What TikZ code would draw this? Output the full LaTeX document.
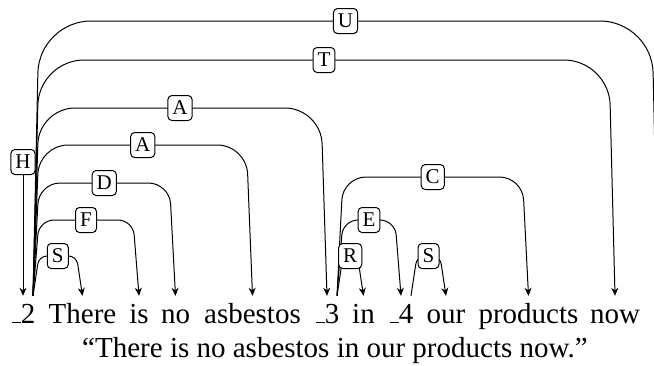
\documentclass[tikz,border=0pt]{standalone}
\usepackage{fontspec}
\setmainfont{Liberation Serif}
\usetikzlibrary{calc,arrows.meta}
\newcommand\usc{\kern.06em\rule{.3em}{1pt}}
\newcommand\depedge[5]{\draw[dep, rounded corners=#4] (#1) -- ($(#1 |- 0,#3)+(6,0)$) -- node[lab]{#5} ($(#2.north |- 0,#3)+(-6,0)$) -- (#2.north);}
\begin{document}
\begin{tikzpicture}[x=1pt,y=-1pt,
  word/.style={anchor=base, inner sep=0pt, text height=27pt, text depth=7pt, font=\fontsize{29}{34}\selectfont},
  lab/.style={draw, fill=white, rounded corners=4pt, line width=1pt, inner xsep=4.5pt, inner ysep=0pt, minimum height=25pt, minimum width=21pt, text height=13.5pt, text depth=0pt, font=\fontsize{21}{25}\selectfont},
  dep/.style={line width=1pt, -{Stealth[length=8pt,width=7pt,inset=2.5pt]}},
]
\useasboundingbox (0,0) rectangle (654,365);
% words
\node[word] (w2)    at (23,323)    {\usc2};
\node[word] (there) at (82.5,323)  {There};
\node[word] (is)    at (139,323)   {is};
\node[word] (no)    at (175.5,323) {no};
\node[word] (asb)   at (252.5,323) {asbestos};
\node[word] (w3)    at (327,323)   {\usc3};
\node[word] (in)    at (363.5,323) {in};
\node[word] (w4)    at (401,323)   {\usc4};
\node[word] (our)   at (446,323)   {our};
\node[word] (prod)  at (528.5,323) {products};
\node[word] (now)   at (615,323)   {now};
\node[word] (eos)   at (658,323)   {};
\node[anchor=base, inner sep=0pt, font=\fontsize{29}{34}\selectfont] (sent) at (335,357) {``There is no asbestos in our products now.''};
% edge starts
\coordinate (s2) at ($(w2.north)+(10,0)$);
\coordinate (s3) at ($(w3.north)+(10,0)$);
\coordinate (s4) at ($(w4.north)+(10,0)$);
% edges
\depedge{s2}{eos}{21}{52}{U}
\depedge{s2}{now}{60}{45}{T}
\depedge{s2}{w3}{108}{36}{A}
\depedge{s2}{asb}{145}{29}{A}
\depedge{s2}{no}{183}{21}{D}
\depedge{s2}{is}{220}{15}{F}
\depedge{s2}{there}{256}{8}{S}
\depedge{s3}{prod}{177}{23}{C}
\depedge{s3}{w4}{220}{15}{E}
\depedge{s3}{in}{256}{8}{R}
\depedge{s4}{our}{256}{8}{S}
% root
\node[lab] (H) at (w2.north |- 0,162) {H};
\draw[dep] (H) -- (w2.north);
\end{tikzpicture}
\end{document}
